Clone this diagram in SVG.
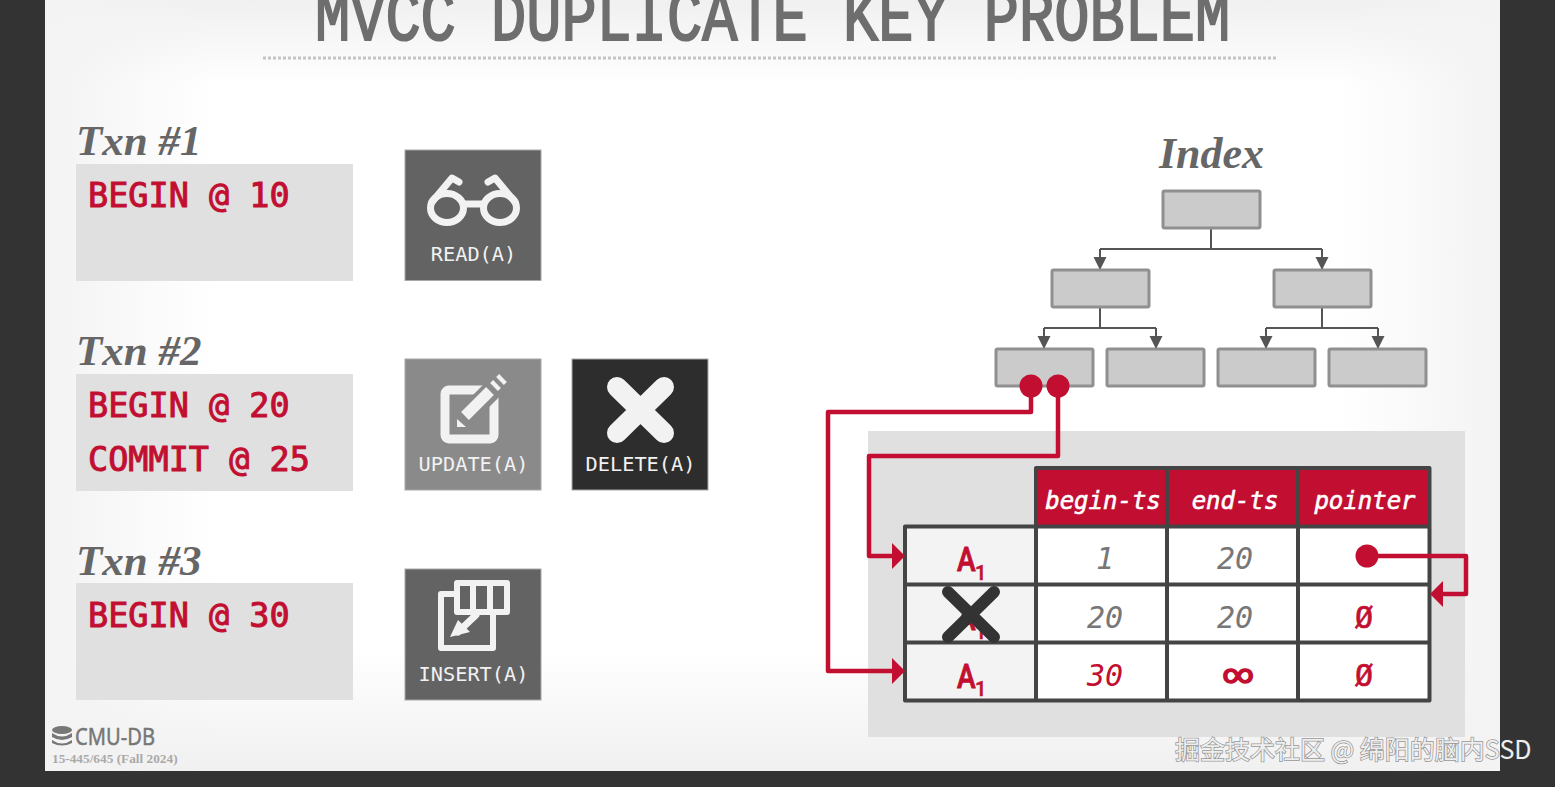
<svg xmlns="http://www.w3.org/2000/svg" width="1555" height="787" viewBox="0 0 1555 787">
<style>
.txn{font:italic bold 43px "Liberation Serif",serif;fill:#666}
.code{font:33.5px "DejaVu Sans Mono",monospace;fill:#c20f31;stroke:#c20f31;stroke-width:1}
.lbl{font:20.300px "DejaVu Sans Mono",monospace;fill:#f2f2f2;text-anchor:middle}
.hd{font:italic 24px "DejaVu Sans Mono",monospace;fill:#fff;stroke:#fff;stroke-width:.6;text-anchor:middle}
.val{font:italic 30px "DejaVu Sans Mono",monospace;fill:#777;text-anchor:middle}
.red{fill:#c20f31}
.key{font:500 33px "Roboto",sans-serif;fill:#c20f31;stroke:#c20f31;stroke-width:.9}
.sub{font:500 20px "Roboto",sans-serif;fill:#c20f31;stroke:#c20f31;stroke-width:.5}
.ibox{fill:#cbcbcb;stroke:#909090;stroke-width:3;rx:1.500px}
.tbox{fill:#e0e0e0}
.ic{fill:none;stroke:#f2f2f2;stroke-linecap:round;stroke-linejoin:round}
.grid{stroke:#444;stroke-width:4;fill:none;stroke-linejoin:round}
.tree{fill:none;stroke:#555;stroke-width:2}
.wire{fill:none;stroke:#c20f31;stroke-width:4.500;stroke-linejoin:round;stroke-linecap:round}
</style>
<defs>
<linearGradient id="gt" x1="0" y1="0" x2="0" y2="1"><stop offset="0" stop-color="#f0f0f0"/><stop offset="1" stop-color="#f0f0f0" stop-opacity="0"/></linearGradient>
<linearGradient id="gb" x1="0" y1="1" x2="0" y2="0"><stop offset="0" stop-color="#f0f0f0"/><stop offset="1" stop-color="#f0f0f0" stop-opacity="0"/></linearGradient>
<linearGradient id="gl" x1="0" y1="0" x2="1" y2="0"><stop offset="0" stop-color="#f3f3f3"/><stop offset="1" stop-color="#f3f3f3" stop-opacity="0"/></linearGradient>
<linearGradient id="gr" x1="1" y1="0" x2="0" y2="0"><stop offset="0" stop-color="#f3f3f3"/><stop offset="1" stop-color="#f3f3f3" stop-opacity="0"/></linearGradient>
<marker id="ah" markerUnits="userSpaceOnUse" markerWidth="14" markerHeight="14" refX="13" refY="7" orient="auto"><path d="M0,0.500L13,7L0,13.500z" fill="#555"/></marker>
</defs>
<rect width="1555" height="787" fill="#333"/>
<g id="slide">
<rect x="45" y="0" width="1455" height="771" fill="#fff"/>
<rect x="45" y="0" width="1455" height="85" fill="url(#gt)"/>
<rect x="45" y="650" width="1455" height="121" fill="url(#gb)"/>
<rect x="45" y="0" width="170" height="771" fill="url(#gl)"/>
<rect x="1340" y="0" width="160" height="771" fill="url(#gr)"/>
</g>
<g id="title">
<text transform="translate(315,40) scale(.815,1)" font-family="Liberation Mono,monospace" font-size="72" fill="#6e6e6e" stroke="#6e6e6e" stroke-width="2">MVCC DUPLICATE KEY PROBLEM</text>
<line x1="263" y1="58" x2="1278" y2="58" stroke="#c4c4c4" stroke-width="3" stroke-dasharray="3 2"/>
</g>
<g id="txn1">
<text class="txn" x="76" y="155">Txn #1</text>
<rect class="tbox" x="76" y="164" width="277" height="117"/>
<text class="code" x="88" y="207">BEGIN @ 10</text>
</g>
<g id="txn2">
<text class="txn" x="76" y="365">Txn #2</text>
<rect class="tbox" x="76" y="374" width="277" height="117"/>
<text class="code" x="88" y="417">BEGIN @ 20</text>
<text class="code" x="88" y="471">COMMIT @ 25</text>
</g>
<g id="txn3">
<text class="txn" x="76" y="575">Txn #3</text>
<rect class="tbox" x="76" y="583" width="277" height="117"/>
<text class="code" x="88" y="627">BEGIN @ 30</text>
</g>
<g id="read">
<rect x="405" y="150" width="136" height="130.500" fill="#636363" stroke="#a8a8a8"/>
<g class="ic" stroke-width="7">
<ellipse cx="447" cy="208" rx="16.500" ry="14.500"/><ellipse cx="500" cy="208" rx="16.500" ry="14.500"/>
<path d="M464,204H483M432,202L452,178L459,182M515,202L495,178L488,182"/>
</g>
<text class="lbl" x="473.500" y="261">READ(A)</text>
</g>
<g id="update">
<rect x="405" y="359" width="136" height="131" fill="#8a8a8a" stroke="#a8a8a8"/>
<rect class="ic" x="445" y="390" width="49" height="49" rx="4" stroke-width="9"/>
<line x1="460" y1="422" x2="505" y2="377" stroke="#8a8a8a" stroke-width="20"/>
<line x1="465" y1="416" x2="490" y2="391" stroke="#f2f2f2" stroke-width="11"/>
<line x1="494" y1="387" x2="497" y2="384" stroke="#f2f2f2" stroke-width="11"/>
<line x1="500" y1="381" x2="503" y2="378" stroke="#f2f2f2" stroke-width="11"/>
<path d="M457,427V419L466,427z" fill="#f2f2f2"/>
<text class="lbl" x="473.500" y="471">UPDATE(A)</text>
</g>
<g id="delete">
<rect x="572" y="359" width="136" height="131" fill="#2d2d2d" stroke="#a8a8a8"/>
<path class="ic" d="M617,387L664,433M664,387L617,433" stroke-width="20"/>
<text class="lbl" x="640.500" y="471">DELETE(A)</text>
</g>
<g id="insert">
<rect x="405" y="569" width="136" height="131" fill="#636363" stroke="#a8a8a8"/>
<path class="ic" d="M457,594H441V648H493V612" stroke-width="6"/>
<rect class="ic" x="457" y="583" width="50" height="29" stroke-width="6"/>
<path class="ic" d="M473,583V612M490,583V612" stroke-width="6"/>
<path class="ic" d="M476,615L458,632" stroke-width="7"/>
<path d="M450,637L458,620L470,632z" fill="#f2f2f2"/>
<text class="lbl" x="473.500" y="681">INSERT(A)</text>
</g>
<text x="1159" y="168" class="txn" style="font-size:44px">Index</text>
<g id="connectors">
<path class="tree" d="M1211,228V249M1100,249H1322"/>
<path class="tree" d="M1100,249V270" marker-end="url(#ah)"/>
<path class="tree" d="M1322,249V270" marker-end="url(#ah)"/>
<path class="tree" d="M1100,307V328M1044,328H1156"/>
<path class="tree" d="M1044,328V349" marker-end="url(#ah)"/>
<path class="tree" d="M1156,328V349" marker-end="url(#ah)"/>
<path class="tree" d="M1322,307V328M1266,328H1378"/>
<path class="tree" d="M1266,328V349" marker-end="url(#ah)"/>
<path class="tree" d="M1378,328V349" marker-end="url(#ah)"/>
</g>
<g id="index-root"><rect class="ibox" x="1163" y="191" width="97" height="37"/></g>
<g id="index-l"><rect class="ibox" x="1052" y="270" width="97" height="37"/></g>
<g id="index-r"><rect class="ibox" x="1274" y="270" width="97" height="37"/></g>
<g id="leaf1"><rect class="ibox" x="996" y="349" width="97" height="37"/></g>
<g id="leaf2"><rect class="ibox" x="1107" y="349" width="97" height="37"/></g>
<g id="leaf3"><rect class="ibox" x="1218" y="349" width="97" height="37"/></g>
<g id="leaf4"><rect class="ibox" x="1329" y="349" width="97" height="37"/></g>
<rect id="panel" x="868" y="431" width="597" height="306" fill="#e0e0e0"/>
<g id="table">
<rect x="905" y="527" width="131" height="174" fill="#f3f3f3"/>
<rect x="1036" y="527" width="394" height="174" fill="#fff"/>
<rect x="1036" y="468" width="394" height="59" fill="#c20f31"/>
<path class="grid" d="M1036,526.500V468H1429.500V700.500H905V526.500H1429.500M905,584.500H1429.500M905,642.500H1429.500M1036,526.500V700.500M1167,468V700.500M1298,468V700.500"/>
<text class="hd" x="1103" y="509">begin-ts</text>
<text class="hd" x="1235" y="509">end-ts</text>
<text class="hd" x="1365" y="509">pointer</text>
<text class="key" transform="translate(957,571) scale(.85,1)">A</text><text class="sub" x="975" y="580">1</text>
<text class="key" transform="translate(957,630) scale(.85,1)">A</text><text class="sub" x="975" y="639">1</text>
<text class="key" transform="translate(957,688) scale(.85,1)">A</text><text class="sub" x="975" y="696">1</text>
<path d="M948,592L994,637M994,592L948,637" stroke="#333" stroke-width="12" stroke-linecap="round" fill="none"/>
<text class="val" x="1105" y="569">1</text>
<text class="val" x="1235" y="569">20</text>
<text class="val" x="1105" y="628">20</text>
<text class="val" x="1235" y="628">20</text>
<text class="val" x="1105" y="686" style="fill:#c20f31">30</text>
<text class="val" transform="translate(1238,688) scale(1.7,1.3)" style="fill:#c20f31;font-weight:bold">∞</text>
<text class="val" x="1364" y="628" style="fill:#c20f31;font-style:normal;stroke:#c20f31;stroke-width:.7">Ø</text>
<text class="val" x="1364" y="686" style="fill:#c20f31;font-style:normal;stroke:#c20f31;stroke-width:.7">Ø</text>
</g>
<g id="pointers">
<path class="wire" d="M1031,386V412H828V671H895"/>
<path class="wire" d="M1058,386V456H869V556H895"/>
<path class="wire" d="M1367,556H1466V594H1442"/>
<circle class="red" cx="1031" cy="386" r="11.500"/>
<circle class="red" cx="1058" cy="386" r="11.500"/>
<circle class="red" cx="1367" cy="556" r="11.500"/>
<path class="red" d="M905,556L892,543V569z"/>
<path class="red" d="M905,671L892,658V684z"/>
<path class="red" d="M1430,594L1443,581V607z"/>
</g>
<g id="footer">
<g fill="#777"><ellipse cx="62" cy="730" rx="10" ry="4"/><path d="M52,733Q62,740 72,733V737Q62,743 52,737z"/><path d="M52,740Q62,747 72,740V743Q62,748 52,743z"/></g>
<text x="75" y="745" font-family="Noto Sans,sans-serif" font-size="24" fill="#777" stroke="#777" stroke-width=".5" textLength="80" lengthAdjust="spacingAndGlyphs">CMU-DB</text>
<text x="52" y="763" font-family="Liberation Serif,serif" font-size="13.300" font-weight="bold" fill="#aaa">15-445/645 (Fall 2024)</text>
</g>
<text id="watermark" x="1175" y="759" font-family="Noto Sans CJK SC,sans-serif" font-size="25" fill="#eee" stroke="#444" stroke-opacity=".55" stroke-width="1.500" paint-order="stroke">掘金技术社区 @ 绵阳的脑内SSD</text>
</svg>
